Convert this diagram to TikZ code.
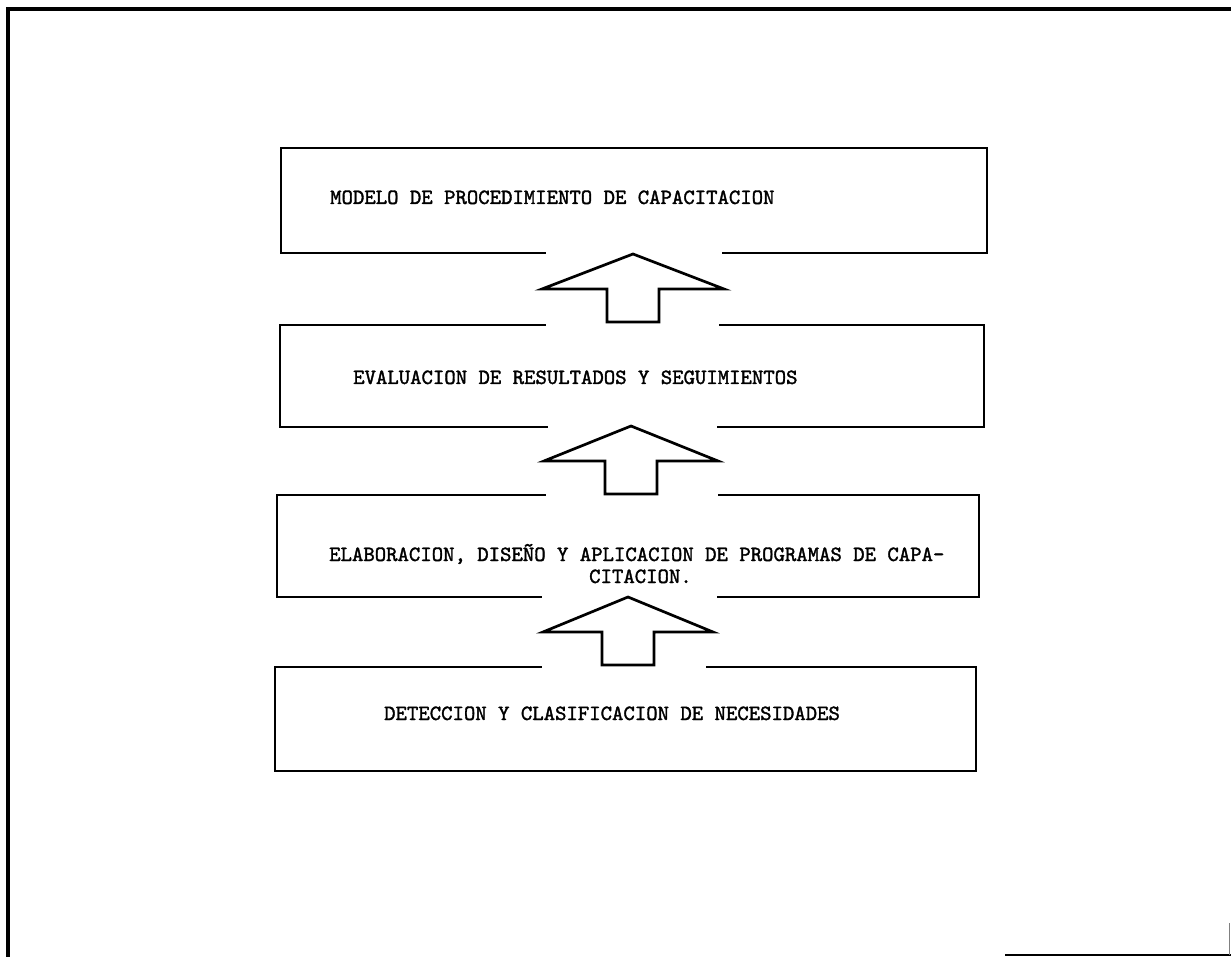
\documentclass[tikz,border=0pt]{standalone}
\usepackage{fontspec}
\newfontfamily\typewriter{lmmono10-regular.otf}[FakeBold=1.6]
\usetikzlibrary{calc}
\tikzset{
  frameline/.style={line width=3.2pt, line cap=rect},
  boxline/.style={line width=2.7pt, line join=miter, line cap=rect},
  arrowline/.style={line width=2.7pt, line join=miter},
  label/.style={anchor=base west, inner sep=0pt, font=\typewriter\fontsize{21.7}{24}\selectfont},
  pics/uparrow/.style={code={
    \draw[arrowline] (0,0) -- (#1,35) -- (26,35) -- (26,68) -- (-26,68) -- (-26,35) -- (-#1,35) -- cycle;
  }}
}
\begin{document}
\begin{tikzpicture}[x=1pt, y=-1pt]
\useasboundingbox[fill=white] (0,0) rectangle (1231,957);

% page frame
\draw[frameline] (1231,9) -- (8,9) -- (8,957);
\draw[line width=2pt] (1005,955) -- (1231,955);
\draw[line width=1pt, gray] (1229,923) -- (1229,955);

% box corners
\coordinate (b1nw) at (281,148); \coordinate (b1se) at (987,253);
\coordinate (b2nw) at (280,325); \coordinate (b2se) at (984,427);
\coordinate (b3nw) at (277,495); \coordinate (b3se) at (979,597);
\coordinate (b4nw) at (275,667); \coordinate (b4se) at (976,771);

% box 1: open at the bottom where the arrow enters
\draw[boxline] (545,253) -- (b1nw |- b1se) -- (b1nw) -- (b1se |- b1nw) -- (b1se) -- (723,253);
% box 2
\draw[boxline] (545,325) -- (b2nw) -- (b2nw |- b2se) -- (547,427);
\draw[boxline] (720,325) -- (b2se |- b2nw) -- (b2se) -- (718,427);
% box 3
\draw[boxline] (545,495) -- (b3nw) -- (b3nw |- b3se) -- (541,597);
\draw[boxline] (719,495) -- (b3se |- b3nw) -- (b3se) -- (718,597);
% box 4: open at the top
\draw[boxline] (541,667) -- (b4nw) -- (b4nw |- b4se) -- (b4se) -- (b4se |- b4nw) -- (707,667);

% block arrows between the boxes
\coordinate (a1) at (633,254);
\coordinate (a2) at (631,426);
\coordinate (a3) at (628,597);
\pic at (a1) {uparrow=91};
\pic at (a2) {uparrow=87};
\pic at (a3) {uparrow=85};

% labels
\node[label] (t1) at (330,204) {MODELO DE PROCEDIMIENTO DE CAPACITACION};
\node[label] (t2) at (353,384) {EVALUACION DE RESULTADOS Y SEGUIMIENTOS};
\node[label] (t3) at (329,561) {ELABORACION, DISEÑO Y APLICACION DE PROGRAMAS DE CAPA-};
\node[label] (t3b) at (589,583) {CITACION.};
\node[label] (t4) at (384,720) {DETECCION Y CLASIFICACION DE NECESIDADES};
\end{tikzpicture}
\end{document}
